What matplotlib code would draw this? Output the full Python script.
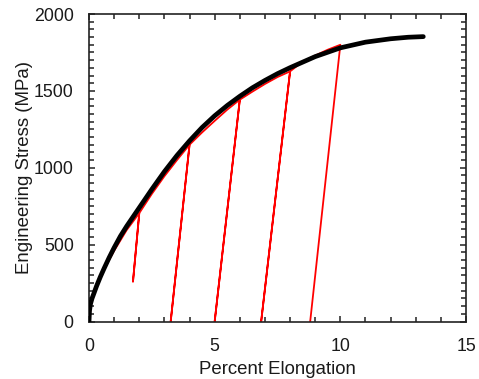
import numpy as np
import matplotlib.pyplot as plt
from matplotlib.ticker import MultipleLocator

# monotonic tensile test (black)
elong = [0, 0.02, 0.06, 0.12, 0.2, 0.3, 0.45, 0.6, 0.8, 1.0, 1.25, 1.5, 2.0,
         2.5, 3.0, 3.5, 4.0, 4.5, 5.0, 5.5, 6.0, 6.5, 7.0, 7.5, 8.0, 9.0,
         10.0, 11.0, 12.0, 12.7, 13.3]
stress = [0, 70, 115, 150, 185, 230, 290, 345, 415, 480, 555, 620, 740,
          860, 975, 1080, 1175, 1262, 1338, 1405, 1465, 1520, 1568, 1612, 1651, 1723,
          1780, 1817, 1839, 1849, 1853]

# load / unload test (red)
cyc_elong = [0, 0.1, 0.5, 1.0, 1.5, 2.0, 1.75, 2.0,
             2.5, 3.0, 3.5, 4.0, 3.25, 4.0,
             4.5, 5.0, 5.5, 6.0, 5.0, 6.0,
             6.5, 7.0, 7.5, 8.0, 6.85, 8.0,
             8.5, 9.0, 9.5, 10.0, 8.8]
cyc_stress = [0, 130, 310, 460, 595, 705, 260, 705,
              830, 945, 1050, 1150, 0, 1150,
              1230, 1305, 1378, 1443, 0, 1443,
              1495, 1545, 1590, 1627, 0, 1627,
              1690, 1730, 1768, 1800, 0]

plt.rcParams['font.family'] = ['Liberation Sans', 'DejaVu Sans']

fig = plt.figure(figsize=(4.79, 3.79), dpi=100)
ax = fig.add_axes([0.1858, 0.1517, 0.7871, 0.8113])

ax.plot(cyc_elong, cyc_stress, color='red', lw=1.3, zorder=2)
ax.plot(elong, stress, color='black', lw=3.4, solid_capstyle='round', zorder=3)

ax.set_xlim(0, 15)
ax.set_ylim(0, 2000)
ax.xaxis.set_major_locator(MultipleLocator(5))
ax.xaxis.set_minor_locator(MultipleLocator(1))
ax.yaxis.set_major_locator(MultipleLocator(500))
ax.yaxis.set_minor_locator(MultipleLocator(50))
ax.tick_params(which='both', direction='in', top=True, right=True, width=1.1,
               labelsize=12.8, color='#222222', labelcolor='#1a1a1a')
ax.tick_params(which='major', length=4)
ax.tick_params(which='minor', length=3.5)
ax.tick_params(axis='x', pad=12)
ax.tick_params(axis='y', pad=11)
for s in ax.spines.values():
    s.set_linewidth(1.2)
    s.set_color('#222222')

ax.set_xlabel('Percent Elongation', fontsize=13.4, labelpad=4.5, color='#1a1a1a')
ax.set_ylabel('Engineering Stress (MPa)', fontsize=13.4, labelpad=0.5, color='#1a1a1a')

fig.savefig('out.png', dpi=100)
